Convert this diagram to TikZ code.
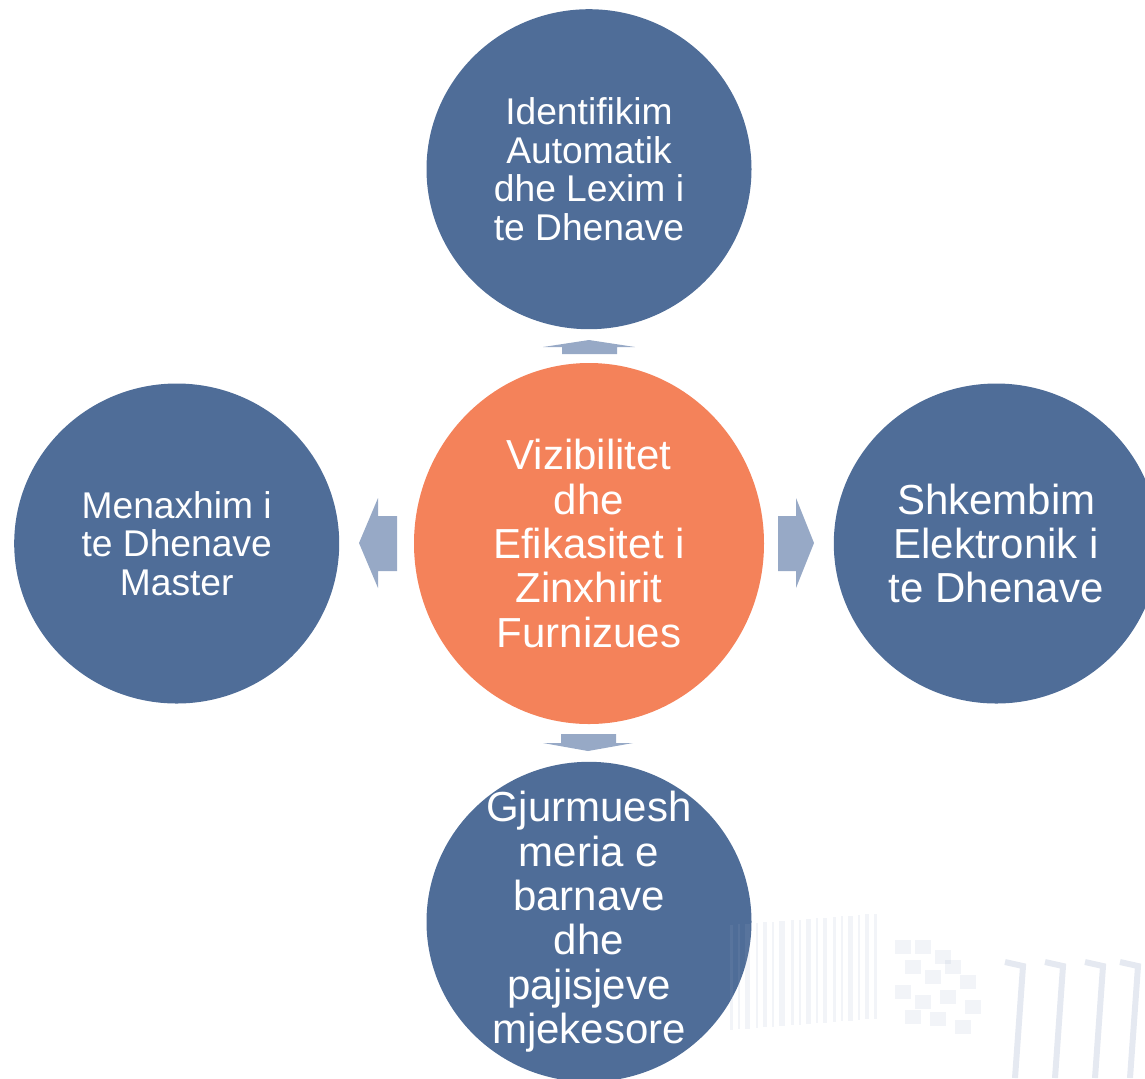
\documentclass[tikz,border=0pt]{standalone}
\usepackage{fontspec}
\setmainfont{Liberation Sans}
\usetikzlibrary{positioning,shapes.geometric}
\definecolor{circleblue}{HTML}{4F6D98}
\definecolor{centerorange}{HTML}{F4825A}
\definecolor{arrowblue}{HTML}{97A9C6}
\tikzset{
  OuterStyle/.style = {ellipse, fill=circleblue, minimum width=162.5pt,
                       minimum height=160pt, inner sep=0pt},
  CenterStyle/.style = {ellipse, fill=centerorange, minimum width=175pt,
                        minimum height=180.5pt, inner sep=0pt},
  SmallText/.style = {text=white, align=center, inner sep=0pt,
                      font=\fontsize{18.6}{19.3}\selectfont},
  LargeText/.style = {text=white, align=center, inner sep=0pt,
                      font=\fontsize{21}{22.2}\selectfont},
  ArrowStyle/.style = {fill=arrowblue},
  MarkStyle/.style = {fill=arrowblue, opacity=0.13} }

\begin{document}
\begin{tikzpicture}[x=0.5pt, y=-0.5pt]
  \useasboundingbox (0,0) rectangle (1145,1078);
  \clip (0,0) rectangle (1145,1078);
  % circles
  \node[CenterStyle, label={[LargeText]center:{Vizibilitet\\dhe\\Efikasitet i\\Zinxhirit\\Furnizues}}]
    (V) at (589,543.5) {};
  \node[OuterStyle, above=16.5pt of V,
    label={[SmallText]center:{Identifikim\\Automatik\\dhe Lexim i\\te Dhenave}}] (T) {};
  \node[OuterStyle, left=37pt of V,
    label={[SmallText]center:{Menaxhim i\\te Dhenave\\Master}}] (L) {};
  \node[OuterStyle, right=34.5pt of V,
    label={[LargeText]center:{Shkembim\\Elektronik i\\te Dhenave}}] (R) {};
  \node[OuterStyle, below=18.5pt of V,
    label={[LargeText]center:{Gjurmuesh\\meria e\\barnave\\dhe\\pajisjeve\\mjekesore}}] (B) {};
  % arrows
  \fill[ArrowStyle] (562,354) -- (562,347) -- (543,347) -- (589,340) -- (635,347)
    -- (617,347) -- (617,354) -- cycle;
  \fill[ArrowStyle] (561,734) -- (616,734) -- (616,743) -- (633,743) -- (588,751)
    -- (543,743) -- (561,743) -- cycle;
  \fill[ArrowStyle] (397,516) -- (378,516) -- (378,498) -- (359,543) -- (378,588)
    -- (378,571) -- (397,571) -- cycle;
  \fill[ArrowStyle] (778,516) -- (796,516) -- (796,498) -- (814,543) -- (796,588)
    -- (796,571) -- (778,571) -- cycle;
  % faint barcode marks
  \foreach \x/\w in {730/3, 738/2, 745/5, 756/2, 763/4, 772/2, 779/6, 791/3,
                     799/2, 806/5, 816/2, 823/4, 833/3, 841/2, 848/5, 858/2,
                     865/4, 874/3}
    \fill[MarkStyle] (\x,{925-(\x-730)*0.08}) rectangle ++(\w,105);
  \foreach \x/\y in {895/940, 915/940, 935/950, 905/960, 925/970, 945/960,
                     960/975, 895/985, 915/995, 940/990, 965/1000, 905/1010,
                     930/1012, 955/1020}
    \fill[MarkStyle] (\x,\y) rectangle ++(16,14);
  \foreach \x in {1005, 1045, 1085, 1120}
    \draw[arrowblue, opacity=0.25, line width=3pt] (\x,962) -- ++(18,4) -- ++(-8,112);
\end{tikzpicture}
\end{document}
